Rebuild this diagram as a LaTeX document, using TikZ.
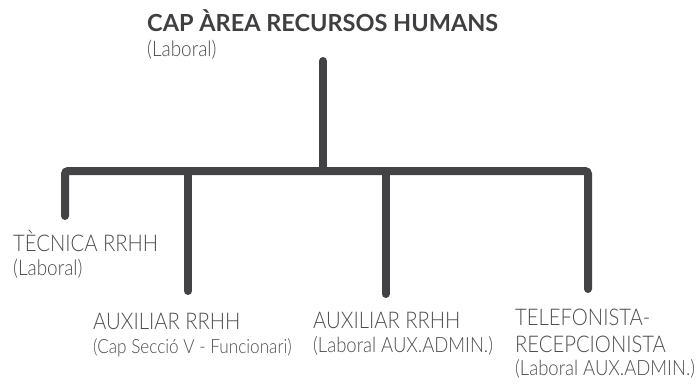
\documentclass[tikz,border=0pt]{standalone}
\usepackage{fontspec}
\setmainfont{Lato}
\newfontfamily\rolefont{Lato Light}[FakeStretch=0.88]
\newfontfamily\headfont{Lato Bold}
\usetikzlibrary{positioning}

\definecolor{linegray}{HTML}{434345}
\definecolor{titlegray}{HTML}{3F3F41}
\definecolor{textgray}{HTML}{4D4D4F}

\tikzset{
  orgline/.style={line width=8pt, draw=linegray, line cap=round, rounded corners=3pt},
  role/.style={anchor=base west, inner sep=0pt, text=textgray, font=\rolefont\fontsize{23}{27}\selectfont},
  headrole/.style={role, text=titlegray, font=\headfont\fontsize{23.5}{27}\selectfont},
  note/.style={role, font=\rolefont\fontsize{21.5}{25}\selectfont},
  tightnote/.style={role, font=\rolefont\fontsize{21}{25}\selectfont},
  smallnote/.style={role, font=\rolefont\fontsize{19.5}{23}\selectfont}
}

\begin{document}
\begin{tikzpicture}[x=1pt, y=-1pt]
    \useasboundingbox (0,0) rectangle (700,383);
    % boxes
    \node[headrole] (head) at (147,31.7) {CAP ÀREA RECURSOS HUMANS};
    \node[note] (headsub) at (147,56) {(Laboral)};
    \node[role] (tecnica) at (13,251.7) {TÈCNICA RRHH};
    \node[note] (tecnicasub) at (13,275.5) {(Laboral)};
    \node[role] (auxa) at (93,329.5) {AUXILIAR RRHH};
    \node[smallnote] (auxasub) at (93,353.5) {(Cap Secció V - Funcionari)};
    \node[role] (auxb) at (313,328) {AUXILIAR RRHH};
    \node[tightnote] (auxbsub) at (313,352) {(Laboral AUX.ADMIN.)};
    \node[role] (tel) at (515,325.7) {TELEFONISTA-};
    \node[role] (recep) at (515,352.3) {RECEPCIONISTA};
    \node[tightnote] (telsub) at (515,375) {(Laboral AUX.ADMIN.)};
    % line ends
    \coordinate (stemtop) at (323,61);
    \coordinate (stembot) at (323,171);
    \coordinate (busl) at (65,171);
    \coordinate (busr) at (588,171);
    \coordinate (tecnicaend) at (65,216);
    \coordinate (auxatop) at (188,171);
    \coordinate (auxaend) at (188,291);
    \coordinate (auxbtop) at (385.5,171);
    \coordinate (auxbend) at (385.5,294);
    \coordinate (telend) at (588,289);
    % lines
    \draw[orgline] (stemtop) -- (stembot);
    \draw[orgline] (tecnicaend) -- (busl) -- (busr) -- (telend);
    \draw[orgline] (auxatop) -- (auxaend);
    \draw[orgline] (auxbtop) -- (auxbend);
\end{tikzpicture}
\end{document}
